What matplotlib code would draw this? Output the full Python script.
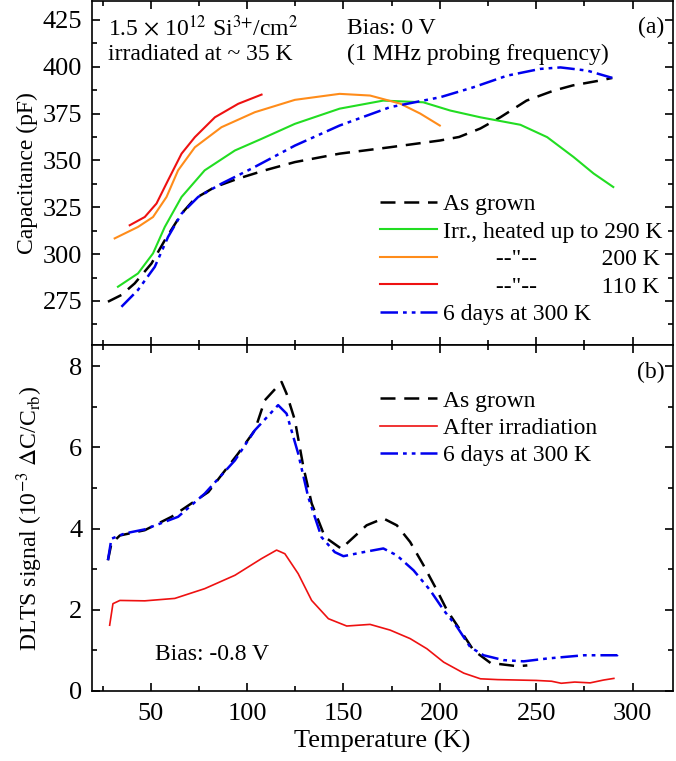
import matplotlib
matplotlib.use("Agg")
import matplotlib.pyplot as plt
from matplotlib.ticker import MultipleLocator

plt.rcParams["font.family"] = ["Liberation Serif", "DejaVu Serif"]
plt.rcParams["mathtext.fontset"] = "stix"

# panel (a): capacitance vs temperature
t_grown_c = [27.8, 34.8, 41.7, 50.4, 57.3, 66, 72.9, 83.3, 95.4, 109.2, 124.8, 148, 174, 200, 210, 221, 231.4, 245, 259, 269, 283, 289.5]
c_grown = [274.6, 278.2, 284.4, 295, 307.4, 321.6, 329.6, 335.8, 340.3, 344.7, 349.1, 353.6, 357, 360.6, 362.5, 367, 373, 381.9, 387.2, 390, 392.6, 394]

t_290 = [33, 43.4, 51.2, 57.3, 66, 78, 93.7, 107.5, 124.8, 148, 170.6, 191.4, 205.4, 221, 241.8, 255.7, 269.4, 279.8, 290]
c_290 = [282.6, 289.7, 300.4, 314.5, 330.5, 344.7, 355.3, 361.5, 369.5, 377.6, 381.9, 381, 376.6, 373, 369, 362.4, 351.8, 343, 335.8]

t_200 = [31.3, 43.4, 51.2, 58.2, 64.2, 72.9, 86.7, 104, 124.8, 148, 163.8, 179.4, 189.8, 200]
c_200 = [308.4, 314.5, 319.8, 330.5, 344.7, 357, 367.7, 375.7, 382.3, 385.5, 384.6, 380.3, 375, 368.6]

t_110 = [39.1, 46.9, 53, 59, 66, 72.9, 83.3, 95.4, 107.5]
c_110 = [315.4, 319.8, 327, 339.4, 353.6, 362.4, 373, 380.2, 385.1]

t_6d_c = [34.8, 43.4, 52.1, 59, 66, 74.6, 86.7, 102.3, 124.8, 148, 174.2, 200.2, 217.4, 234.9, 252, 262.6, 276.5, 289.5]
c_6d = [271.9, 280.9, 293.2, 309.2, 321.6, 330.5, 337.6, 345.6, 357.9, 368.6, 378.4, 383.7, 389, 395.2, 398.8, 399.6, 397.9, 394]

# panel (b): DLTS signal vs temperature
t_grown_d = [27.8, 29.6, 34, 46.9, 60.8, 79.9, 95.4, 104, 109.2, 117.9, 120.5, 124.8, 129.2, 133.5, 140.4, 149, 151.7, 162, 170.7, 177.7, 184.6, 191.5, 198.5, 203.7, 210.6, 217.5, 226.3, 240.2, 245.4]
s_grown = [3.22, 3.63, 3.83, 3.96, 4.29, 4.9, 5.85, 6.42, 7.16, 7.61, 7.32, 6.67, 5.52, 4.62, 3.79, 3.5, 3.63, 4.08, 4.25, 4.08, 3.67, 3.1, 2.48, 1.99, 1.5, 1.0, 0.69, 0.61, 0.63]

t_irr = [28.7, 30.4, 34, 46.9, 62.5, 78, 93.7, 107.5, 115.3, 119.6, 126.5, 133.5, 142.2, 151.7, 163.8, 174.2, 184.6, 193.3, 202, 212.4, 221.1, 230, 240, 250, 258, 263, 270, 278, 285, 290.3]
s_irr = [1.62, 2.15, 2.23, 2.22, 2.28, 2.52, 2.85, 3.26, 3.47, 3.38, 2.89, 2.23, 1.78, 1.6, 1.64, 1.5, 1.29, 1.04, 0.71, 0.44, 0.3, 0.28, 0.27, 0.26, 0.24, 0.19, 0.22, 0.2, 0.27, 0.31]

t_6d_d = [27.8, 29.6, 36.5, 46.9, 64.2, 78, 93.7, 104, 116.1, 120.5, 126.5, 131.7, 138.6, 145.5, 150, 160.4, 170.7, 177.7, 186.4, 195, 202, 208.9, 215.8, 222.7, 233.1, 243.5, 255.7, 274.8, 292.1, 293.8]
s_6d = [3.22, 3.75, 3.88, 3.98, 4.29, 4.86, 5.68, 6.42, 7.04, 6.83, 5.85, 4.78, 3.79, 3.42, 3.32, 3.42, 3.51, 3.34, 2.97, 2.48, 1.99, 1.58, 1.08, 0.88, 0.76, 0.73, 0.8, 0.88, 0.88, 0.96]

fig = plt.figure(figsize=(6.76, 7.61), dpi=100)
ax1 = fig.add_axes([0.136, 0.5466, 0.8596, 0.4520])
ax2 = fig.add_axes([0.136, 0.092, 0.8596, 0.4546], sharex=ax1)

dash_black = (0, (6, 3.5))
dash_blue = (0, (7, 2, 1.5, 2, 1.5, 2))

ax1.plot(t_grown_c, c_grown, color="black", lw=1.8, linestyle=dash_black, label="As grown")
ax1.plot(t_290, c_290, color="#22dd22", lw=1.5, label="Irr., heated up to 290 K")
ax1.plot(t_200, c_200, color="#ff8c1a", lw=1.5, label='         --"--           200 K')
ax1.plot(t_110, c_110, color="#ee1111", lw=1.5, label='         --"--           110 K')
ax1.plot(t_6d_c, c_6d, color="#0000ee", lw=1.8, linestyle=dash_blue, label="6 days at 300 K")

ax2.plot(t_grown_d, s_grown, color="black", lw=1.8, linestyle=dash_black, label="As grown")
ax2.plot(t_irr, s_irr, color="#ee1111", lw=1.2, label="After irradiation")
ax2.plot(t_6d_d, s_6d, color="#0000ee", lw=1.8, linestyle=dash_blue, label="6 days at 300 K")

ax1.set_xlim(19.5, 321)
ax1.set_ylim(251.5, 435)
ax2.set_ylim(0, 8.52)

ax1.xaxis.set_major_locator(MultipleLocator(50))
ax1.xaxis.set_minor_locator(MultipleLocator(25))
ax1.yaxis.set_major_locator(MultipleLocator(25))
ax1.yaxis.set_minor_locator(MultipleLocator(12.5))
ax2.yaxis.set_major_locator(MultipleLocator(2))
ax2.yaxis.set_minor_locator(MultipleLocator(1))

for ax in (ax1, ax2):
    ax.tick_params(which="both", direction="in", top=True, right=True, labelsize=19, width=1.2)
    ax.tick_params(which="major", length=6)
    ax.tick_params(which="minor", length=3.5)
    ax.tick_params(axis="x", which="major", pad=9)
    ax.tick_params(axis="y", which="major", pad=7)
    for sp in ax.spines.values():
        sp.set_linewidth(1.2)
ax1.tick_params(labelbottom=False)

ax1.set_ylabel("Capacitance (pF)", fontsize=17)
ax2.set_ylabel(r"DLTS signal (10$^{-3}$ $\Delta$C/C$_{\mathrm{rb}}$)", fontsize=17)
ax1.yaxis.set_label_coords(-0.092, 0.5)
ax2.yaxis.set_label_coords(-0.08, 0.5)
ax2.set_xlabel("Temperature (K)", fontsize=19, labelpad=3)

ax1.text(0.028, 0.922, r"1.5 $\times$ 10$^{12}$ Si$^{3{+}}$/cm$^{2}$", transform=ax1.transAxes, fontsize=17, va="center")
ax1.text(0.028, 0.846, r"irradiated at ~ 35 K", transform=ax1.transAxes, fontsize=17, va="center")
ax1.text(0.439, 0.92, "Bias: 0 V", transform=ax1.transAxes, fontsize=17, va="center")
ax1.text(0.439, 0.846, "(1 MHz probing frequency)", transform=ax1.transAxes, fontsize=17, va="center")
ax1.text(0.985, 0.922, "(a)", transform=ax1.transAxes, fontsize=17, va="center", ha="right")
ax2.text(0.985, 0.922, "(b)", transform=ax2.transAxes, fontsize=17, va="center", ha="right")
ax2.text(0.108, 0.105, "Bias: -0.8 V", transform=ax2.transAxes, fontsize=17, va="center")

leg_kw = dict(frameon=False, fontsize=17, handlelength=2.4, handletextpad=0.25, labelspacing=0.25,
              borderpad=0, borderaxespad=0, loc="upper left")
ax1.legend(bbox_to_anchor=(0.4957, 0.44), **leg_kw)
ax2.legend(bbox_to_anchor=(0.4957, 0.87), **leg_kw)

fig.savefig("out.png", dpi=100)
